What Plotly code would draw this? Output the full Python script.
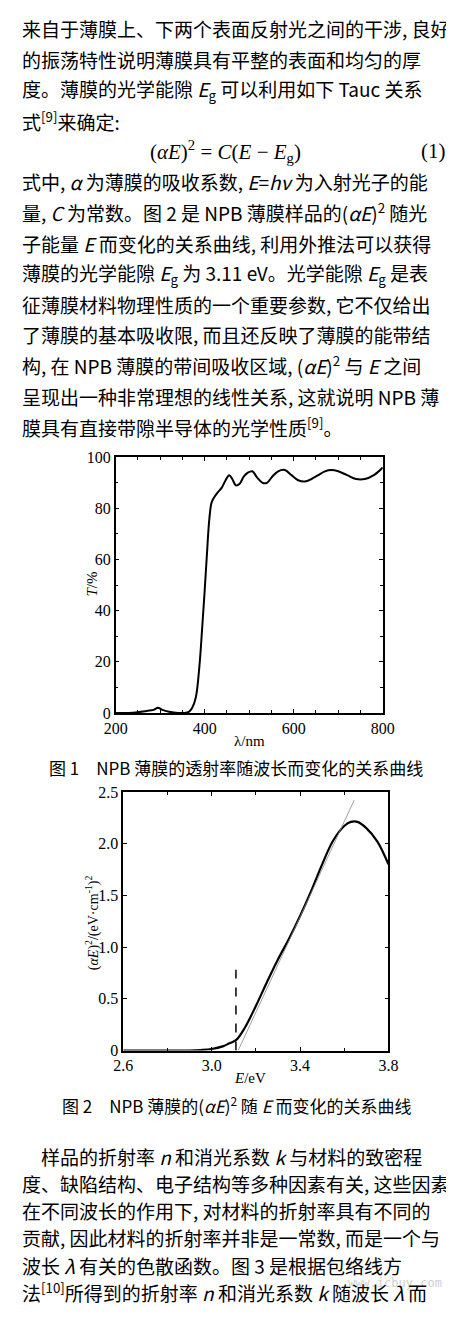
import plotly.graph_objects as go

# Fig 1: transmittance vs wavelength
wl = [200, 230, 250, 270, 285, 295, 305, 320, 340, 355, 365, 372, 380, 388, 395, 400, 405,
      410, 415, 420, 428, 438, 447, 455, 462, 470, 478, 488, 497, 507, 518, 530, 540,
      552, 565, 580, 595, 610, 625, 640, 655, 670, 685, 700, 720, 740, 760, 780, 800]
trans = [0, 0, 0.3, 0.8, 1.2, 2, 1.2, 0.5, 0, 0, 0.5, 2, 6, 18, 35, 48, 62,
         75, 82, 84, 86, 88, 91, 93, 91.5, 89, 89.5, 92.5, 94, 94.5, 92, 90, 90,
         92.5, 94.5, 95, 93, 91, 90.5, 91.5, 93, 94.5, 95, 94.5, 93, 91.5, 91.5, 93, 96]

# Fig 2: (aE)^2 vs E
energy = [2.6, 2.8, 2.9, 2.95, 3.0, 3.05, 3.08, 3.11, 3.15, 3.2, 3.25, 3.3, 3.35, 3.4,
          3.45, 3.5, 3.55, 3.6, 3.63, 3.66, 3.7, 3.75, 3.8]
ae2 = [0, 0, 0, 0.005, 0.015, 0.04, 0.07, 0.1, 0.22, 0.43, 0.66, 0.88, 1.08, 1.3,
       1.54, 1.8, 2.03, 2.17, 2.21, 2.21, 2.15, 2.02, 1.8]
fit_e = [3.12, 3.645]
fit_y = [0, 2.42]
eg_e = [3.11, 3.11]
eg_y = [0, 0.78]

W, H = 454, 1323
def px(x): return x / W
def py(y): return 1 - y / H

cjk = "Noto Sans CJK SC"
serif = "Liberation Serif"

fig = go.Figure()
fig.add_trace(go.Scatter(x=wl, y=trans, mode="lines", line=dict(color="black", width=2, shape="spline"),
                         xaxis="x", yaxis="y", showlegend=False))
fig.add_trace(go.Scatter(x=energy, y=ae2, mode="lines", line=dict(color="black", width=2.2, shape="spline"),
                         xaxis="x2", yaxis="y2", showlegend=False))
fig.add_trace(go.Scatter(x=fit_e, y=fit_y, mode="lines", line=dict(color="#888", width=0.8),
                         xaxis="x2", yaxis="y2", showlegend=False))
fig.add_trace(go.Scatter(x=eg_e, y=eg_y, mode="lines", line=dict(color="black", width=1.5, dash="dash"),
                         xaxis="x2", yaxis="y2", showlegend=False))

ax = dict(showgrid=False, zeroline=False, showline=True, mirror="ticks", linecolor="black", linewidth=1.5,
          ticks="inside", ticklen=4, tickcolor="black", tickfont=dict(family=serif, size=16, color="black"))
fig.update_layout(
    width=W, height=H, margin=dict(l=0, r=0, t=0, b=0),
    paper_bgcolor="white", plot_bgcolor="white",
    xaxis=dict(ax, domain=[px(101), px(383)], range=[200, 800], tickvals=[200, 400, 600, 800],
               minor=dict(ticks="inside", ticklen=3, dtick=50, tickcolor="black")),
    yaxis=dict(ax, domain=[py(706), py(447)], range=[0, 100], tickvals=[0, 20, 40, 60, 80, 100],
               minor=dict(ticks="inside", ticklen=3, dtick=10, tickcolor="black")),
    xaxis2=dict(ax, anchor="y2", domain=[px(109), px(389)], range=[2.6, 3.8], tickvals=[2.6, 3.0, 3.4, 3.8],
                ticktext=["2.6", "3.0", "3.4", "3.8"],
                minor=dict(ticks="inside", ticklen=3, dtick=0.2, tickcolor="black")),
    yaxis2=dict(ax, anchor="x2", domain=[py(1048), py(786)], range=[0, 2.5],
                tickvals=[0, 0.5, 1.0, 1.5, 2.0, 2.5], ticktext=["0", "0.5", "1.0", "1.5", "2.0", "2.5"]),
)

top_lines = [
    "来自于薄膜上、下两个表面反射光之间的干涉, 良好",
    "的振荡特性说明薄膜具有平整的表面和均匀的厚",
    "度。薄膜的光学能隙 <i>E</i><sub>g</sub> 可以利用如下 Tauc 关系",
    "式<sup>[9]</sup>来确定:",
    None,
    "式中, <i>α</i> 为薄膜的吸收系数, <i>E</i>=<i>hν</i> 为入射光子的能",
    "量, <i>C</i> 为常数。图 2 是 NPB 薄膜样品的(<i>αE</i>)<sup>2</sup> 随光",
    "子能量 <i>E</i> 而变化的关系曲线, 利用外推法可以获得",
    "薄膜的光学能隙 <i>E</i><sub>g</sub> 为 3.11 eV。光学能隙 <i>E</i><sub>g</sub> 是表",
    "征薄膜材料物理性质的一个重要参数, 它不仅给出",
    "了薄膜的基本吸收限, 而且还反映了薄膜的能带结",
    "构, 在 NPB 薄膜的带间吸收区域, (<i>αE</i>)<sup>2</sup> 与 <i>E</i> 之间",
    "呈现出一种非常理想的线性关系, 这就说明 NPB 薄",
    "膜具有直接带隙半导体的光学性质<sup>[9]</sup>。",
]
bottom_lines = [
    "　样品的折射率 <i>n</i> 和消光系数 <i>k</i> 与材料的致密程",
    "度、缺陷结构、电子结构等多种因素有关, 这些因素",
    "在不同波长的作用下, 对材料的折射率具有不同的",
    "贡献, 因此材料的折射率并非是一常数, 而是一个与",
    "波长 <i>λ</i> 有关的色散函数。图 3 是根据包络线方",
    "法<sup>[10]</sup>所得到的折射率 <i>n</i> 和消光系数 <i>k</i> 随波长 <i>λ</i> 而",
]

ann = []
def txt(x, y, s, size=19, xanchor="left", family=cjk, color="black", angle=0):
    ann.append(dict(x=px(x), y=py(y), xref="paper", yref="paper", text=s, showarrow=False,
                    xanchor=xanchor, yanchor="middle", textangle=angle,
                    font=dict(family=family, size=size, color=color)))

for i, s in enumerate(top_lines):
    if s:
        txt(0, 13 + 31 * i, s)
txt(135, 137, "(<i>αE</i>)<sup>2</sup> = <i>C</i>(<i>E</i> − <i>E</i><sub>g</sub>)", size=21, family=serif)
txt(452, 137, "(1)", size=21, xanchor="right", family=serif)
txt(448, 1283, "www.icbuy.com", size=12, xanchor="right", family="DejaVu Sans Mono", color="#d0d0d0")
for i, s in enumerate(bottom_lines):
    txt(0, 1155 + 27.6 * i, s)

# axis titles and captions
txt(242, 734, "λ/nm", size=15, xanchor="center", family=serif)
txt(76, 575, "<i>T</i>/%", size=15, xanchor="center", family=serif, angle=-90)
txt(243, 1076, "<i>E</i>/eV", size=15, xanchor="center", family=serif)
txt(76, 918, "(<i>αE</i>)<sup>2</sup>/(eV·cm<sup>-1</sup>)<sup>2</sup>", size=14, xanchor="center",
    family=serif, angle=-90)
txt(228, 761, "图 1　NPB 薄膜的透射率随波长而变化的关系曲线", size=17, xanchor="center")
txt(229, 1103, "图 2　NPB 薄膜的(<i>αE</i>)<sup>2</sup> 随 <i>E</i> 而变化的关系曲线", size=17, xanchor="center")

fig.update_layout(annotations=ann)
fig.write_html("out.html")
